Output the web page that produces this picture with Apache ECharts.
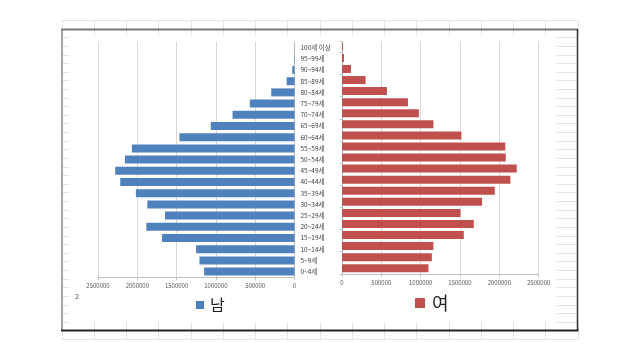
<!DOCTYPE html>
<html><head><meta charset="utf-8">
<script src="https://cdn.jsdelivr.net/npm/echarts@6/dist/echarts.min.js"></script>
<style>html,body{margin:0;padding:0;background:#fff}#c{width:640px;height:360px}</style>
</head><body><div id="c"></div>
<script>
const categories = ['0~4세','5~9세','10~14세','15~19세','20~24세','25~29세','30~34세','35~39세','40~44세','45~49세','50~54세','55~59세','60~64세','65~69세','70~74세','75~79세','80~84세','85~89세','90~94세','95~99세','100세 이상'];
const male = [1150000,1209000,1252000,1686000,1885000,1648000,1872000,2018000,2217000,2281000,2158000,2069000,1464000,1065000,788000,568000,296000,100000,28000,6000,1500];
const female = [1099000,1142000,1162000,1548000,1675000,1505000,1780000,1942000,2140000,2221000,2081000,2076000,1518000,1162000,977000,838000,571000,300000,114000,25000,12000];
const seriesNames = ['남','여'];
const axisMax = 2500000, axisStep = 500000;

const FONT = '"Noto Sans CJK KR","Noto Sans",sans-serif';
const chart = echarts.init(document.getElementById('c'), null, {renderer:'canvas'});

// spreadsheet decoration
const g = [];
const gl = '#e3e3e3';
const colX = [];
for (let k = 0; k <= 16; k++) colX.push(61.5 + 32.25 * k);
g.push({type:'line', shape:{x1:61.5,y1:20.5,x2:577.5,y2:20.5}, style:{stroke:gl,lineWidth:1}, silent:true});
g.push({type:'line', shape:{x1:61.5,y1:339.5,x2:577.5,y2:339.5}, style:{stroke:gl,lineWidth:1}, silent:true});
colX.forEach(x => {
  g.push({type:'line', shape:{x1:Math.round(x)+0.5,y1:20,x2:Math.round(x)+0.5,y2:35}, style:{stroke:gl,lineWidth:1}, silent:true});
  g.push({type:'line', shape:{x1:Math.round(x)+0.5,y1:322,x2:Math.round(x)+0.5,y2:340}, style:{stroke:gl,lineWidth:1}, silent:true});
});
for (let k = 0; k <= 33; k++) {
  const y = Math.round(37.3 + 8.62 * k) + 0.5;
  g.push({type:'line', shape:{x1:62,y1:y,x2:69,y2:y}, style:{stroke:gl,lineWidth:1}, silent:true});
  g.push({type:'line', shape:{x1:557,y1:y,x2:577,y2:y}, style:{stroke:gl,lineWidth:1}, silent:true});
}
g.push({type:'line', shape:{x1:61,y1:29.5,x2:578,y2:29.5}, style:{stroke:'#777',lineWidth:2}, silent:true});
g.push({type:'line', shape:{x1:62,y1:29,x2:62,y2:331}, style:{stroke:'#888',lineWidth:1.5}, silent:true});
g.push({type:'line', shape:{x1:577.5,y1:29,x2:577.5,y2:331}, style:{stroke:'#333',lineWidth:1.5}, silent:true});
g.push({type:'line', shape:{x1:61,y1:330.5,x2:578.5,y2:330.5}, style:{stroke:'#222',lineWidth:2}, silent:true});
g.push({type:'text', left:75, top:293, style:{text:'2', font:'7px ' + FONT, fill:'#555'}, silent:true});

const rawNum = v => String(v);
const axisLabelStyle = {fontSize:6, color:'#595959', fontFamily:FONT, formatter:rawNum};
const splitStyle = {show:true, lineStyle:{color:'#d9d9d9', width:1}};

chart.setOption({
  animation:false,
  backgroundColor:'#ffffff',
  textStyle:{fontFamily:FONT},
  graphic:g,
  legend:[
    {data:[seriesNames[0]], left:196, top:297, icon:'rect', itemWidth:8, itemHeight:8, itemGap:6, padding:0,
     textStyle:{fontSize:16, color:'#222', fontFamily:FONT, padding:[0,0,0,1]}},
    {data:[seriesNames[1]], left:415, top:294, icon:'rect', itemWidth:10, itemHeight:10, padding:0,
     textStyle:{fontSize:18, color:'#222', fontFamily:FONT, padding:[0,0,0,2]}}
  ],
  grid:[
    {left:98, right:345.5, top:42, bottom:82.8, containLabel:false},
    {left:342, right:101.3, top:41.3, bottom:86.2, containLabel:false}
  ],
  xAxis:[
    {gridIndex:0, type:'value', inverse:true, min:0, max:axisMax, interval:axisStep,
     axisLine:{show:true, lineStyle:{color:'#bfbfbf'}}, axisTick:{show:true, length:3, lineStyle:{color:'#bfbfbf'}},
     axisLabel:Object.assign({margin:6}, axisLabelStyle), splitLine:splitStyle},
    {gridIndex:1, type:'value', min:0, max:axisMax, interval:axisStep,
     axisLine:{show:true, lineStyle:{color:'#bfbfbf'}}, axisTick:{show:true, length:3, lineStyle:{color:'#bfbfbf'}},
     axisLabel:Object.assign({margin:6}, axisLabelStyle), splitLine:splitStyle}
  ],
  yAxis:[
    {gridIndex:0, type:'category', data:categories, position:'right',
     axisLine:{show:true, lineStyle:{color:'#bfbfbf'}}, axisTick:{show:false},
     axisLabel:{interval:0, margin:6, fontSize:6.5, color:'#404040', fontFamily:FONT}},
    {gridIndex:1, type:'category', data:categories, position:'left',
     axisLine:{show:true, lineStyle:{color:'#bfbfbf'}}, axisTick:{show:true, length:2, lineStyle:{color:'#bfbfbf'}},
     axisLabel:{show:false}}
  ],
  series:[
    {name:seriesNames[0], type:'bar', xAxisIndex:0, yAxisIndex:0, data:male, barWidth:8,
     itemStyle:{color:'#4F81BD'}},
    {name:seriesNames[1], type:'bar', xAxisIndex:1, yAxisIndex:1, data:female, barWidth:8,
     itemStyle:{color:'#C0504D'}}
  ]
});
</script></body></html>
